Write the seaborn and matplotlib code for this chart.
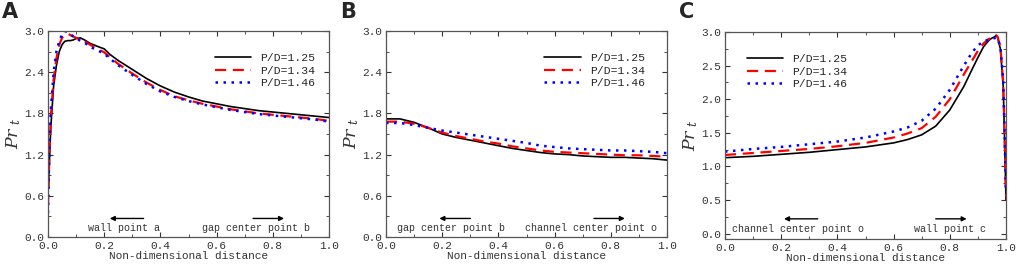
import matplotlib
matplotlib.use("Agg")
import matplotlib.pyplot as plt
from matplotlib.ticker import MultipleLocator
import seaborn as sns
import pandas as pd

# ---- data ----
series = ["P/D=1.25", "P/D=1.34", "P/D=1.46"]

x_a = [0, 0.005, 0.01, 0.02, 0.03, 0.04, 0.05, 0.06, 0.07, 0.08, 0.09, 0.1, 0.115,
       0.13, 0.15, 0.18, 0.2, 0.22, 0.25, 0.3, 0.35, 0.4, 0.45, 0.5, 0.55, 0.6, 0.65,
       0.7, 0.75, 0.8, 0.85, 0.9, 0.95, 1.0]
a_125 = [0.6, 1.1, 1.6, 2.2, 2.5, 2.7, 2.8, 2.85, 2.86, 2.86, 2.87, 2.89, 2.9,
         2.87, 2.82, 2.77, 2.74, 2.66, 2.57, 2.44, 2.31, 2.2, 2.11, 2.04, 1.98, 1.94, 1.9,
         1.87, 1.84, 1.82, 1.8, 1.78, 1.76, 1.74]
a_134 = [0.45, 1.2, 1.75, 2.3, 2.6, 2.8, 2.9, 2.95, 2.96, 2.94, 2.92, 2.9, 2.88,
         2.85, 2.8, 2.73, 2.69, 2.62, 2.52, 2.38, 2.25, 2.14, 2.05, 1.99, 1.94, 1.9, 1.86,
         1.83, 1.8, 1.78, 1.76, 1.74, 1.72, 1.69]
a_146 = [0.35, 1.3, 1.85, 2.4, 2.7, 2.85, 2.95, 3.0, 2.98, 2.95, 2.92, 2.89, 2.86,
         2.83, 2.77, 2.71, 2.67, 2.6, 2.5, 2.36, 2.23, 2.12, 2.04, 1.98, 1.93, 1.89, 1.85,
         1.82, 1.79, 1.77, 1.75, 1.73, 1.71, 1.68]

x_b = [0, 0.05, 0.1, 0.15, 0.2, 0.25, 0.3, 0.35, 0.4, 0.45, 0.5, 0.55, 0.6, 0.65,
       0.7, 0.75, 0.8, 0.85, 0.9, 0.95, 1.0]
b_125 = [1.72, 1.72, 1.67, 1.59, 1.50, 1.45, 1.41, 1.37, 1.33, 1.29, 1.26, 1.23, 1.21,
         1.20, 1.18, 1.17, 1.16, 1.16, 1.15, 1.14, 1.12]
b_134 = [1.68, 1.68, 1.65, 1.59, 1.52, 1.47, 1.43, 1.39, 1.36, 1.32, 1.29, 1.26, 1.24,
         1.23, 1.22, 1.21, 1.20, 1.19, 1.19, 1.18, 1.17]
b_146 = [1.66, 1.66, 1.63, 1.59, 1.55, 1.52, 1.49, 1.46, 1.43, 1.40, 1.37, 1.33, 1.31,
         1.29, 1.28, 1.27, 1.26, 1.26, 1.25, 1.24, 1.22]

x_c = [0, 0.1, 0.2, 0.3, 0.4, 0.5, 0.6, 0.65, 0.7, 0.75, 0.8, 0.85, 0.88, 0.9, 0.92,
       0.94, 0.95, 0.96, 0.965, 0.97, 0.98, 0.99, 0.995, 1.0]
c_125 = [1.13, 1.15, 1.18, 1.21, 1.25, 1.29, 1.35, 1.40, 1.47, 1.60, 1.84, 2.19, 2.45,
         2.62, 2.78, 2.88, 2.91, 2.93, 2.95, 2.92, 2.75, 2.2, 1.4, 0.5]
c_134 = [1.17, 1.20, 1.23, 1.26, 1.30, 1.35, 1.43, 1.49, 1.57, 1.74, 2.00, 2.37, 2.58,
         2.72, 2.83, 2.90, 2.93, 2.94, 2.95, 2.93, 2.78, 2.25, 1.45, 0.55]
c_146 = [1.22, 1.26, 1.29, 1.33, 1.37, 1.43, 1.52, 1.58, 1.68, 1.86, 2.14, 2.50, 2.70,
         2.80, 2.86, 2.89, 2.90, 2.91, 2.92, 2.90, 2.78, 2.3, 1.5, 0.6]

sns.set_style("ticks")
plt.rcParams["font.family"] = ["Liberation Mono", "DejaVu Sans"]
plt.rcParams["mathtext.fontset"] = "dejavuserif"

W, H = 1017, 268
fig = plt.figure(figsize=(W / 100, H / 100), dpi=100)

palette = {"P/D=1.25": "black", "P/D=1.34": "red", "P/D=1.46": "blue"}
styles = {"P/D=1.25": "-", "P/D=1.34": (0, (5, 3)), "P/D=1.46": (0, (1, 2.2))}
widths = {"P/D=1.25": 1.2, "P/D=1.34": 1.6, "P/D=1.46": 1.8}


def make_df(x, ys):
    rows = []
    for name, y in zip(series, ys):
        rows += [{"x": xi, "y": yi, "case": name} for xi, yi in zip(x, y)]
    return pd.DataFrame(rows)


panels = [
    ("A", (48, 329, 31, 237), x_a, [a_125, a_134, a_146], 0.6, (0, 3.0),
     [("wall point a", 0.27, 0.35, 0.21), ("gap center point b", 0.74, 0.72, 0.85)],
     dict(loc="upper right", bbox_to_anchor=(0.98, 0.93))),
    ("B", (386, 667, 31, 237), x_b, [b_125, b_134, b_146], 0.6, (0, 3.0),
     [("gap center point b", 0.23, 0.31, 0.18), ("channel center point o", 0.73, 0.73, 0.86)],
     dict(loc="upper right", bbox_to_anchor=(0.95, 0.93))),
    ("C", (725, 1006, 32, 239), x_c, [c_125, c_134, c_146], 0.5, (-0.08, 3.0),
     [("channel center point o", 0.26, 0.34, 0.2), ("wall point c", 0.80, 0.74, 0.87)],
     dict(loc="upper left", bbox_to_anchor=(0.05, 0.93))),
]

for letter, (l, r, t, b), x, ys, ystep, ylim, notes, legkw in panels:
    ax = fig.add_axes([l / W, (H - b) / H, (r - l) / W, (b - t) / H])
    df = make_df(x, ys)
    for name in series:
        sub = df[df["case"] == name]
        sns.lineplot(data=sub, x="x", y="y", ax=ax, color=palette[name],
                     linestyle=styles[name], linewidth=widths[name], label=name,
                     estimator=None, sort=False)
    ax.set_xlim(0, 1.0)
    ax.set_ylim(*ylim)
    ax.xaxis.set_major_locator(MultipleLocator(0.2))
    ax.xaxis.set_minor_locator(MultipleLocator(0.1))
    ax.yaxis.set_major_locator(MultipleLocator(ystep))
    ax.yaxis.set_minor_locator(MultipleLocator(ystep / 2))
    ax.tick_params(which="both", direction="in", top=True, right=True,
                   labelsize=8, colors="#333333", labelcolor="#333333", pad=3)
    ax.tick_params(which="major", length=3.5)
    ax.tick_params(which="minor", length=2)
    ax.xaxis.set_major_formatter(plt.FormatStrFormatter("%.1f"))
    ax.yaxis.set_major_formatter(plt.FormatStrFormatter("%.1f"))
    for sp in ax.spines.values():
        sp.set_color("#555555")
        sp.set_linewidth(0.9)
    ax.set_xlabel("Non-dimensional distance", fontsize=8, color="#333333", labelpad=0)
    ax.set_ylabel("$Pr_{\\ t}$", fontsize=12.5, color="#333333")
    ax.yaxis.set_label_coords(-0.09, 0.5)
    ay = 0.27 if ystep == 0.6 else 0.22
    ty = 0.13 if ystep == 0.6 else 0.07
    for text, tx, a0, a1 in notes:
        ax.text(tx, ty, text, ha="center", va="center", fontsize=7.2, color="#333333")
        ax.annotate("", xy=(a1, ay), xytext=(a0, ay),
                    arrowprops=dict(arrowstyle="-|>", color="black", lw=1.0,
                                    mutation_scale=7))
    ax.legend(frameon=False, fontsize=8.2, handlelength=3.2, labelspacing=0.2,
              borderpad=0.2, handletextpad=0.8, **legkw)
    fig.text((l - 46) / W, 1 - 2 / H, letter, ha="left", va="top",
             fontsize=15, fontweight="bold", family="DejaVu Sans")

fig.savefig("out.png", dpi=100)
